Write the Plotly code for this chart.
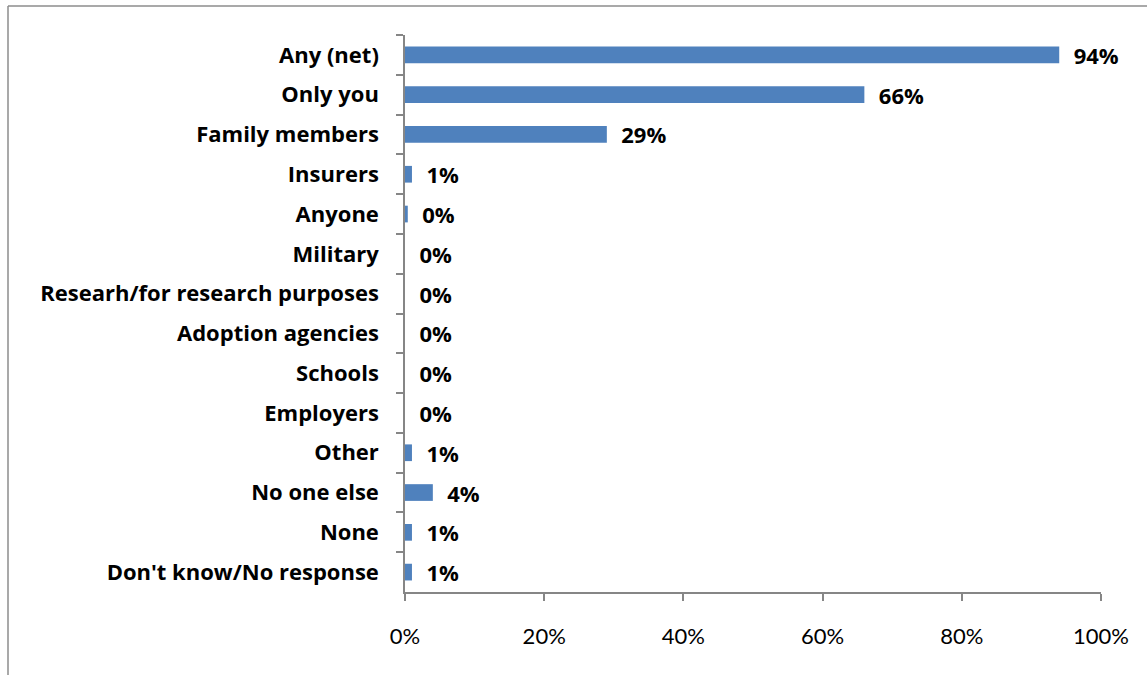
import plotly.graph_objects as go

# Survey: who should have access to the results
categories = [
    "Any (net)",
    "Only you",
    "Family members",
    "Insurers",
    "Anyone",
    "Military",
    "Researh/for research purposes",
    "Adoption agencies",
    "Schools",
    "Employers",
    "Other",
    "No one else",
    "None",
    "Don't know/No response",
]
shares = [94, 66, 29, 1, 0.4, 0, 0, 0, 0, 0, 1, 4, 1, 1]

x_ticks = [0, 20, 40, 60, 80, 100]
x_tick_labels = ["0%", "20%", "40%", "60%", "80%", "100%"]

BAR_COLOR = "#4F81BD"
AXIS_COLOR = "#868686"
FONT = "Open Sans"

fig = go.Figure(
    go.Bar(
        x=shares,
        y=categories,
        orientation="h",
        marker=dict(color=BAR_COLOR, line=dict(width=0)),
        text=[f"\u00a0\u00a0{round(v)}%" for v in shares],
        textposition="outside",
        constraintext="none",
        cliponaxis=False,
        textfont=dict(family=FONT, size=22, color="#000000", weight="bold"),
        hoverinfo="skip",
    )
)

W, H = 1147, 675
ML, MR, MT, MB = 405, 46, 35, 83
pw, ph = W - ML - MR, H - MT - MB


def px_x(p):
    return (p - ML) / pw


def px_y(p):
    return (H - MB - p) / ph


# Outer chart frame (top and left edges visible)
frame = dict(type="line", xref="paper", yref="paper",
             line=dict(color="#8C8C8C", width=1.5))
shapes = [
    dict(frame, x0=px_x(8), x1=px_x(1160), y0=px_y(6), y1=px_y(6)),
    dict(frame, x0=px_x(8), x1=px_x(8), y0=px_y(6), y1=px_y(700)),
]

fig.update_layout(
    width=W,
    height=H,
    margin=dict(l=ML, r=MR, t=MT, b=MB, pad=0),
    paper_bgcolor="white",
    plot_bgcolor="white",
    showlegend=False,
    bargap=0.58,
    shapes=shapes,
    font=dict(family=FONT, color="#000000"),
    xaxis=dict(
        range=[0, 100],
        tickvals=x_ticks,
        ticktext=x_tick_labels,
        showgrid=False,
        zeroline=False,
        showline=True,
        linecolor=AXIS_COLOR,
        linewidth=1.5,
        ticks="outside",
        ticklen=7,
        tickcolor=AXIS_COLOR,
        tickwidth=1.5,
        ticklabelstandoff=17,
        tickfont=dict(family="Lato", size=22, color="#000000"),
        fixedrange=True,
    ),
    yaxis=dict(
        autorange="reversed",
        showgrid=False,
        zeroline=False,
        showline=True,
        linecolor=AXIS_COLOR,
        linewidth=1.5,
        ticks="outside",
        tickson="boundaries",
        ticklen=7,
        tickcolor=AXIS_COLOR,
        tickwidth=1.5,
        ticklabelstandoff=20,
        tickfont=dict(family=FONT, size=22, color="#000000", weight="bold"),
        fixedrange=True,
    ),
)

fig.write_html("out.html")
